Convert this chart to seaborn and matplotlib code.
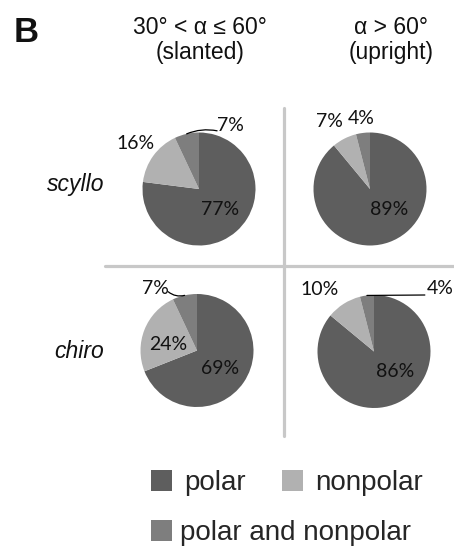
import numpy as np
import matplotlib
matplotlib.use("Agg")
import matplotlib.pyplot as plt
from matplotlib.lines import Line2D
from matplotlib.patches import Patch
import seaborn as sns

# Share of contacts per group (percent), wedges in order: polar, nonpolar, both
categories = ["polar", "nonpolar", "polar and nonpolar"]
scyllo_slanted = [77, 16, 7]
scyllo_upright = [89, 7, 4]
chiro_slanted = [69, 24, 7]
chiro_upright = [86, 10, 4]

col_titles = ["30° < α ≤ 60°\n(slanted)", "α > 60°\n(upright)"]
row_titles = ["scyllo", "chiro"]
panel_letter = "B"

colors = ["#5e5e5e", "#b1b1b1", "#7e7e7e"]

sns.set_theme(style="white")
plt.rcParams["font.family"] = ["Liberation Sans", "DejaVu Sans"]

W, H = 454, 548
fig = plt.figure(figsize=(W / 100, H / 100), dpi=100)


def fx(px):
    return px / W


def fy(py):
    return 1 - py / H


R_PX = 56.5   # pie radius in pixels
K = 1.6       # half-width of each pie axes, in radii

# pie centres (pixels) and label layout in radius units
panels = [
    dict(vals=scyllo_slanted, c=(199, 189),
         pos=[(0.37, -0.37), (-1.13, 0.80), (0.55, 1.12)],
         leader=[None, None, ((0.32, 1.03), 0.15)]),
    dict(vals=scyllo_upright, c=(370, 189),
         pos=[(0.34, -0.37), (-0.71, 1.19), (-0.16, 1.24)],
         leader=[None, None, None]),
    dict(vals=chiro_slanted, c=(197, 350.5),
         pos=[(0.41, -0.31), (-0.51, 0.10), (-0.74, 1.09)],
         leader=[None, None, ((-0.51, 1.04), 0.25)]),
    dict(vals=chiro_upright, c=(374, 351.5),
         pos=[(0.37, -0.36), (-0.96, 1.09), (1.17, 1.12)],
         leader=[None, None, ((0.90, 1.00), 0.0)]),
]

lab_font = dict(family=["Lato", "DejaVu Sans"], fontsize=14, color="#111111")

for p in panels:
    cx, cy = p["c"]
    side = 2 * K * R_PX
    ax = fig.add_axes([fx(cx - side / 2), fy(cy + side / 2), fx(side), side / H])
    vals = p["vals"]
    ax.pie(vals, colors=colors, startangle=90, counterclock=False,
           wedgeprops=dict(linewidth=0))
    ax.set_xlim(-K, K)
    ax.set_ylim(-K, K)
    ax.set_aspect("equal")
    ax.axis("off")

    # wedge mid-angles for leader lines
    frac = np.array(vals) / np.sum(vals)
    ends = 90 - 360 * np.cumsum(frac)
    starts = ends + 360 * frac
    mids = np.deg2rad((starts + ends) / 2)

    for v, (tx, ty), ld, m in zip(vals, p["pos"], p["leader"], mids):
        ax.text(tx, ty, f"{v}%", ha="center", va="center", **lab_font)
        if ld is not None:
            (lx, ly), rad = ld
            ax.annotate("", xy=(np.cos(m), np.sin(m)), xytext=(lx, ly),
                        arrowprops=dict(arrowstyle="-", color="black", lw=0.9,
                                        shrinkA=0, shrinkB=0,
                                        connectionstyle=f"arc3,rad={rad}"))

# divider lines between the four panels
grid_c = "#c8c8c8"
fig.add_artist(Line2D([fx(284), fx(284)], [fy(108), fy(436)],
                      transform=fig.transFigure, color=grid_c, lw=2.3))
fig.add_artist(Line2D([fx(105), fx(454)], [fy(266), fy(266)],
                      transform=fig.transFigure, color=grid_c, lw=2.3))

# column and row headers
for x, t in zip([200, 391], col_titles):
    fig.text(fx(x), fy(40), t, ha="center", va="center", fontsize=16.5,
             linespacing=1.15, color="#111111")
for y, t in zip([184, 351], row_titles):
    fig.text(fx(104), fy(y), t, ha="right", va="center", fontsize=16.5,
             style="italic", color="#111111")
fig.text(fx(14), fy(33), panel_letter, ha="left", va="center", fontsize=25,
         fontweight="bold", color="#111111")

# legend
handles = [Patch(facecolor=c, edgecolor="none") for c in colors]
leg_kw = dict(frameon=False, fontsize=20, handlelength=0.76, handleheight=0.76,
              borderpad=0, borderaxespad=0, loc="center left")
leg1 = fig.legend(handles[:2], categories[:2], ncol=2, handletextpad=0.43,
                  columnspacing=1.3, bbox_to_anchor=(fx(151), fy(483)), **leg_kw)
leg2 = fig.legend(handles[2:], categories[2:], handletextpad=0.3,
                  bbox_to_anchor=(fx(151), fy(533)), **leg_kw)

fig.savefig("out.png", dpi=100)
